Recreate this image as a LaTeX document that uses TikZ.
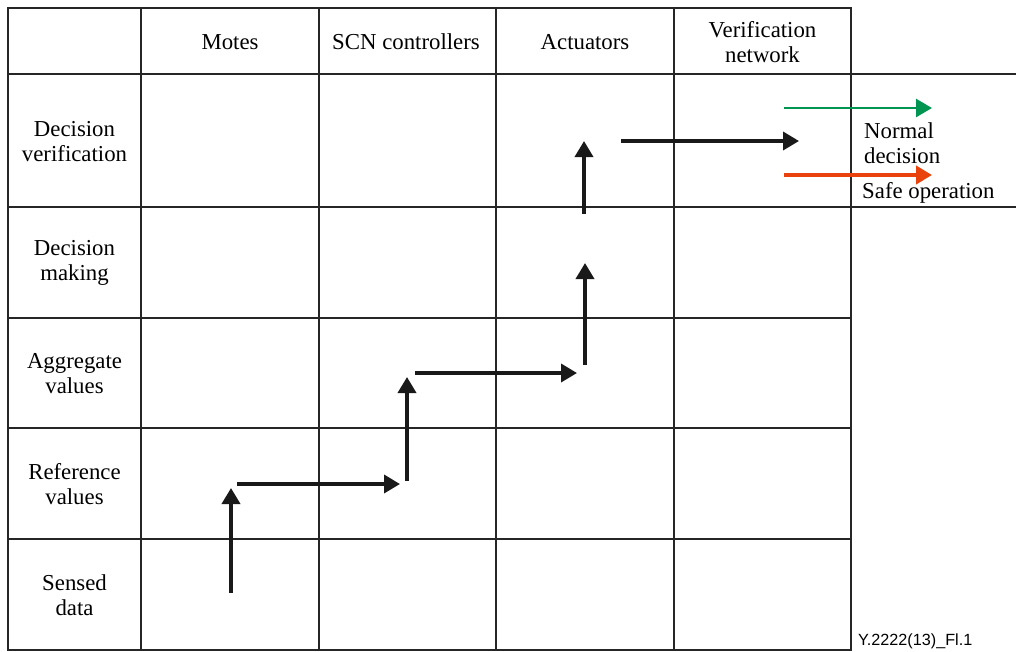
\documentclass[tikz,border=0pt]{standalone}
\usepackage{fontspec}
\setmainfont{Liberation Serif}
\newfontfamily\figfont{Liberation Sans}
\usetikzlibrary{arrows.meta,positioning}
\definecolor{okgreen}{RGB}{0,150,82}
\definecolor{safered}{RGB}{234,66,12}

\begin{document}
\begin{tikzpicture}[x=1pt,y=-1pt,
  font=\fontsize{22.8}{25}\selectfont,
  grid/.style={line width=1.2pt, draw=black!85},
  cell/.style={align=center, inner sep=0pt},
  flow/.style={line width=3.6pt, draw=black!90, -{Triangle[length=16pt,width=18pt]}},
  okflow/.style={line width=2.6pt, draw=okgreen, -{Triangle[length=16pt,width=18pt]}},
  safeflow/.style={line width=4.6pt, draw=safered, -{Triangle[length=16pt,width=18pt]}},
]
\useasboundingbox (0,0) rectangle (1016,651);
% table frame: 5 columns, header row + 5 layers
\draw[grid] (8,8) rectangle (851,650);
\foreach \x in {141,319,496,674} \draw[grid] (\x,8) -- (\x,650);
\foreach \y in {318,428,539} \draw[grid] (8,\y) -- (851,\y);
\foreach \y in {74,207} \draw[grid] (8,\y) -- (1016,\y);
% column heads
\foreach \name/\x/\txt in {mot/230/Motes, scn/406/SCN controllers, act/585/Actuators, net/762.5/{Verification\\network}}
  \node[cell] (h-\name) at (\x,42) {\txt};
% row heads
\foreach \name/\y/\txt in {ver/142/{Decision\\verification}, mak/262.5/{Decision\\making}, agg/373.5/{Aggregate\\values}, ref/484/{Reference\\values}, sen/595/{Sensed\\data}}
  \node[cell] (r-\name) at (74.5,\y) {\txt};
% staircase flow: sensed data -> verification network
\coordinate (s1) at (231,593); \coordinate (t1) at (231,488);
\coordinate (s2) at (237,484); \coordinate (t2) at (400,484);
\coordinate (s3) at (407,481); \coordinate (t3) at (407,377);
\coordinate (s4) at (415,373); \coordinate (t4) at (577,373);
\coordinate (s5) at (585,365); \coordinate (t5) at (585,263);
\coordinate (s6) at (584,214); \coordinate (t6) at (584,141);
\coordinate (s7) at (621,141); \coordinate (t7) at (799,141);
\foreach \i in {1,...,7} \draw[flow] (s\i) -- (t\i);
% legend
\coordinate (gs) at (784,108); \coordinate (gt) at (932,108);
\coordinate (rs) at (784,175); \coordinate (rt) at (932,175);
\draw[okflow] (gs) -- (gt);
\draw[safeflow] (rs) -- (rt);
\node[cell, align=left, anchor=west] (lnorm) at (864,143) {Normal\\decision};
\node[cell, anchor=west] (lsafe) at (862,193) {Safe operation};
\node[anchor=base west, inner sep=0pt, font=\figfont\fontsize{16.2}{18}\selectfont] (figid) at (858,645) {Y.2222(13)\_Fl.1};
\end{tikzpicture}
\end{document}
